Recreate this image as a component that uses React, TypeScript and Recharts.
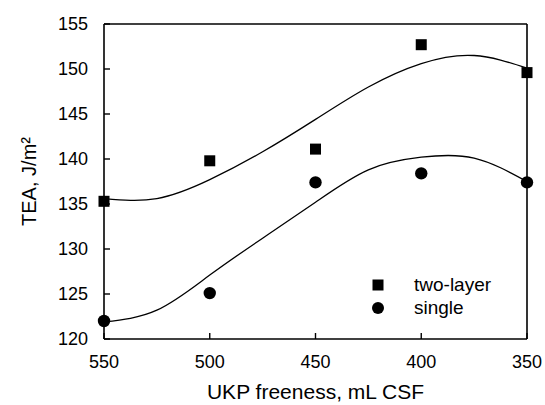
import {
  ComposedChart,
  Line,
  Scatter,
  XAxis,
  YAxis,
  ReferenceLine,
  Legend,
} from "recharts";

// measured points (UKP freeness, mL CSF)
const freeness = [550, 500, 450, 400, 350];
const twoLayer = [135.3, 139.8, 141.1, 152.7, 149.6];
const single = [122.0, 125.1, 137.4, 138.4, 137.4];

// fitted curves
const fitFreeness = [550, 525, 500, 475, 450, 425, 400, 375, 350];
const twoLayerFit = [135.6, 135.6, 137.7, 140.8, 144.4, 148.0, 150.6, 151.5, 150.1];
const singleFit = [121.9, 123.2, 127.1, 131.2, 135.2, 138.8, 140.2, 140.1, 137.5];

const xTicks = [550, 500, 450, 400, 350];
const yTicks = [120, 125, 130, 135, 140, 145, 150, 155];

const FONT = "'Liberation Sans', Arial, sans-serif";
const TICK_LEN = 6;
const GAP = 16;

const twoLayerPts = freeness.map((x, i) => ({ x, y: twoLayer[i] }));
const singlePts = freeness.map((x, i) => ({ x, y: single[i] }));
const twoLayerCurve = fitFreeness.map((x, i) => ({ x, y: twoLayerFit[i] }));
const singleCurve = fitFreeness.map((x, i) => ({ x, y: singleFit[i] }));

const SquareDot = (props: any) => (
  <rect x={props.cx - 5.5} y={props.cy - 5.5} width={11} height={11} fill="#000" />
);
const CircleDot = (props: any) => <circle cx={props.cx} cy={props.cy} r={6.2} fill="#000" />;

// ticks point inward, so draw line + label ourselves
const BottomTick = (props: any) => {
  const { x, y, payload } = props;
  const axisY = y - GAP;
  return (
    <g>
      <line x1={x} x2={x} y1={axisY} y2={axisY - TICK_LEN} stroke="#000" strokeWidth={1.4} />
      <text x={x} y={y} dy="0.71em" textAnchor="middle" fill="#000" fontSize={18} fontFamily={FONT}>
        {payload.value}
      </text>
    </g>
  );
};

const LeftTick = (props: any) => {
  const { x, y, payload } = props;
  const axisX = x + GAP;
  return (
    <g>
      <line x1={axisX} x2={axisX + TICK_LEN} y1={y} y2={y} stroke="#000" strokeWidth={1.4} />
      <text x={x} y={y} dy="0.355em" textAnchor="end" fill="#000" fontSize={18} fontFamily={FONT}>
        {payload.value}
      </text>
    </g>
  );
};

const legendItems = [
  { name: "two-layer", kind: "square" },
  { name: "single", kind: "circle" },
];

const LegendBox = () => (
  <div style={{ fontFamily: FONT, fontSize: 19, color: "#000" }}>
    {legendItems.map((it) => (
      <div key={it.name} style={{ display: "flex", alignItems: "center", height: 23 }}>
        <svg width={16} height={16}>
          {it.kind === "square" ? (
            <rect x={2.5} y={2.5} width={11} height={11} fill="#000" />
          ) : (
            <circle cx={8} cy={8} r={6} fill="#000" />
          )}
        </svg>
        <span style={{ marginLeft: 28 }}>{it.name}</span>
      </div>
    ))}
  </div>
);

export default function App() {
  return (
    <div style={{ position: "absolute", left: 0, top: 0 }}>
      <ComposedChart width={545} height={405} margin={{ top: 24, right: 18, bottom: 0, left: 0 }}>
        <XAxis
          dataKey="x"
          type="number"
          domain={[350, 550]}
          reversed
          ticks={xTicks}
          height={66}
          tick={<BottomTick />}
          tickLine={false}
          tickSize={0}
          tickMargin={GAP}
          axisLine={{ stroke: "#000", strokeWidth: 1.6 }}
          label={{
            value: "UKP freeness, mL CSF",
            position: "center",
            dy: 20,
            fill: "#000",
            fontSize: 21,
            fontFamily: FONT,
          }}
        />
        <YAxis
          dataKey="y"
          type="number"
          domain={[120, 155]}
          ticks={yTicks}
          width={104}
          tick={<LeftTick />}
          tickLine={false}
          tickSize={0}
          tickMargin={GAP}
          axisLine={{ stroke: "#000", strokeWidth: 1.6 }}
          label={{
            value: "TEA, J/m²",
            angle: -90,
            position: "center",
            dx: -23,
            fill: "#000",
            fontSize: 20,
            fontFamily: FONT,
          }}
        />
        <ReferenceLine y={155} stroke="#000" strokeWidth={1.6} />
        <ReferenceLine x={350} stroke="#000" strokeWidth={1.6} />
        <Line
          data={twoLayerCurve}
          dataKey="y"
          type="natural"
          stroke="#000"
          strokeWidth={1.3}
          dot={false}
          isAnimationActive={false}
          legendType="none"
        />
        <Line
          data={singleCurve}
          dataKey="y"
          type="natural"
          stroke="#000"
          strokeWidth={1.3}
          dot={false}
          isAnimationActive={false}
          legendType="none"
        />
        <Scatter name="two-layer" data={twoLayerPts} shape={SquareDot} isAnimationActive={false} />
        <Scatter name="single" data={singlePts} shape={CircleDot} isAnimationActive={false} />
        <Legend
          layout="vertical"
          align="center"
          verticalAlign="middle"
          content={() => <LegendBox />}
          wrapperStyle={{ left: 370, top: 273, width: "auto" }}
        />
      </ComposedChart>
    </div>
  );
}
